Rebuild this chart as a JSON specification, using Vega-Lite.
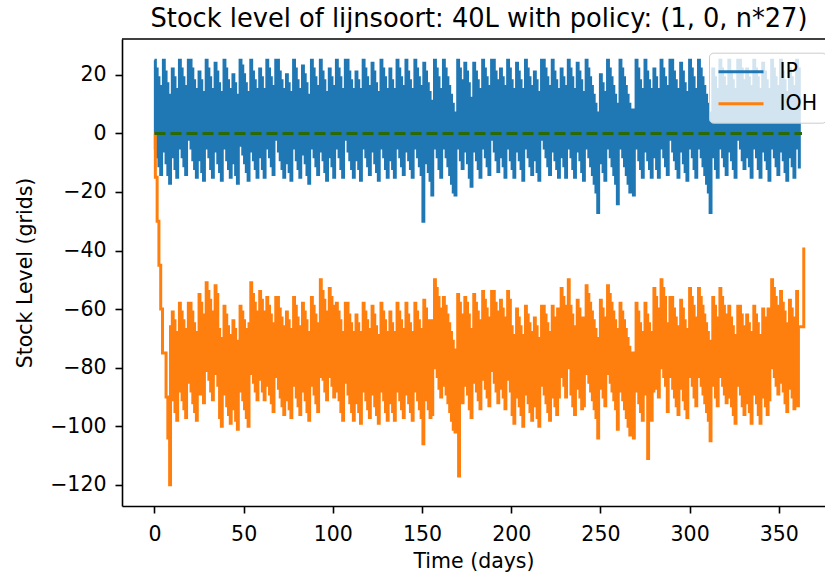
{
"$schema":"https://vega.github.io/schema/vega-lite/v6.json",
"width":703,"height":467,
"autosize":{"type":"none"},
"padding":{"left":122,"top":39,"right":0,"bottom":69},
"background":"white",
"config":{"view":{"stroke":null},"font":"DejaVu Sans",
"axis":{"domainColor":"black","domainWidth":1.6,"tickColor":"black","tickWidth":1.6,"tickSize":7,"labelFontSize":20.5,"labelColor":"black","labelPadding":11,"titleFontSize":20.5,"titleFontWeight":"normal","titleColor":"black","grid":false,"labelFont":"DejaVu Sans","titleFont":"DejaVu Sans","labelFlush":false,"labelOverlap":false}},
"title":{"text":"Stock level of lijnsoort: 40L with policy: (1, 0, n*27)","fontSize":25.7,"fontWeight":"normal","font":"DejaVu Sans","color":"black","anchor":"middle","dx":5.5,"dy":26,"offset":12,"baseline":"alphabetic","frame":"group"},
"datasets":{"d":[
{"t":0,"IP":25,"IOH":0},{"t":0.5,"IP":-5,"IOH":-15},
{"t":1,"IP":22,"IOH":-15},{"t":1.5,"IP":-8,"IOH":-30},
{"t":2,"IP":19,"IOH":-30},{"t":2.5,"IP":-11,"IOH":-45},
{"t":3,"IP":16,"IOH":-45},{"t":3.5,"IP":-14,"IOH":-60},
{"t":4,"IP":13,"IOH":-60},{"t":4.5,"IP":-2,"IOH":-75},
{"t":5,"IP":25,"IOH":-75},{"t":5.5,"IP":-6,"IOH":-75},
{"t":6,"IP":21,"IOH":-75},{"t":6.5,"IP":-10,"IOH":-90},
{"t":7,"IP":17,"IOH":-90},{"t":7.5,"IP":-14,"IOH":-104},
{"t":8,"IP":13,"IOH":-104},{"t":8.5,"IP":-17,"IOH":-120},
{"t":9,"IP":10,"IOH":-66},{"t":9.5,"IP":-5,"IOH":-81},
{"t":10,"IP":22,"IOH":-61},{"t":10.5,"IP":-8,"IOH":-91},
{"t":11,"IP":19,"IOH":-64},{"t":11.5,"IP":-12,"IOH":-95},
{"t":12,"IP":15,"IOH":-68},{"t":12.5,"IP":-15,"IOH":-98},
{"t":13,"IP":12,"IOH":-71},{"t":13.5,"IP":-2,"IOH":-85},
{"t":14,"IP":25,"IOH":-58},{"t":14.5,"IP":-5,"IOH":-88},
{"t":15,"IP":22,"IOH":-61},{"t":15.5,"IP":-8,"IOH":-91},
{"t":16,"IP":19,"IOH":-64},{"t":16.5,"IP":-11,"IOH":-94},
{"t":17,"IP":16,"IOH":-67},{"t":17.5,"IP":-14,"IOH":-97},
{"t":18,"IP":13,"IOH":-70},{"t":18.5,"IP":-2,"IOH":-85},
{"t":19,"IP":25,"IOH":-58},{"t":19.5,"IP":-2,"IOH":-85},
{"t":20,"IP":25,"IOH":-58},{"t":20.5,"IP":-5,"IOH":-88},
{"t":21,"IP":22,"IOH":-61},{"t":21.5,"IP":-9,"IOH":-92},
{"t":22,"IP":18,"IOH":-65},{"t":22.5,"IP":-12,"IOH":-95},
{"t":23,"IP":15,"IOH":-68},{"t":23.5,"IP":-15,"IOH":-98},
{"t":24,"IP":12,"IOH":-71},{"t":24.5,"IP":-6,"IOH":-89},
{"t":25,"IP":21,"IOH":-55},{"t":25.5,"IP":-9,"IOH":-85},
{"t":26,"IP":18,"IOH":-58},{"t":26.5,"IP":-13,"IOH":-89},
{"t":27,"IP":14,"IOH":-62},{"t":27.5,"IP":-16,"IOH":-92},
{"t":28,"IP":11,"IOH":-65},{"t":28.5,"IP":-2,"IOH":-78},
{"t":29,"IP":25,"IOH":-51},{"t":29.5,"IP":-5,"IOH":-81},
{"t":30,"IP":22,"IOH":-54},{"t":30.5,"IP":-8,"IOH":-84},
{"t":31,"IP":19,"IOH":-57},{"t":31.5,"IP":-12,"IOH":-88},
{"t":32,"IP":15,"IOH":-61},{"t":32.5,"IP":-15,"IOH":-91},
{"t":33,"IP":12,"IOH":-64},{"t":33.5,"IP":-3,"IOH":-79},
{"t":34,"IP":24,"IOH":-52},{"t":34.5,"IP":-6,"IOH":-82},
{"t":35,"IP":21,"IOH":-55},{"t":35.5,"IP":-10,"IOH":-86},
{"t":36,"IP":17,"IOH":-67},{"t":36.5,"IP":-13,"IOH":-97},
{"t":37,"IP":14,"IOH":-70},{"t":37.5,"IP":-16,"IOH":-100},
{"t":38,"IP":11,"IOH":-73},{"t":38.5,"IP":-2,"IOH":-86},
{"t":39,"IP":25,"IOH":-59},{"t":39.5,"IP":-5,"IOH":-89},
{"t":40,"IP":22,"IOH":-62},{"t":40.5,"IP":-9,"IOH":-93},
{"t":41,"IP":18,"IOH":-66},{"t":41.5,"IP":-12,"IOH":-96},
{"t":42,"IP":15,"IOH":-69},{"t":42.5,"IP":-15,"IOH":-99},
{"t":43,"IP":12,"IOH":-72},{"t":43.5,"IP":-7,"IOH":-91},
{"t":44,"IP":20,"IOH":-64},{"t":44.5,"IP":-10,"IOH":-94},
{"t":45,"IP":17,"IOH":-67},{"t":45.5,"IP":-14,"IOH":-98},
{"t":46,"IP":13,"IOH":-71},{"t":46.5,"IP":-17,"IOH":-101},
{"t":47,"IP":10,"IOH":-74},{"t":47.5,"IP":-2,"IOH":-86},
{"t":48,"IP":25,"IOH":-59},{"t":48.5,"IP":-4,"IOH":-88},
{"t":49,"IP":23,"IOH":-61},{"t":49.5,"IP":-7,"IOH":-91},
{"t":50,"IP":20,"IOH":-64},{"t":50.5,"IP":-10,"IOH":-94},
{"t":51,"IP":17,"IOH":-67},{"t":51.5,"IP":-13,"IOH":-97},
{"t":52,"IP":14,"IOH":-70},{"t":52.5,"IP":-16,"IOH":-100},
{"t":53,"IP":11,"IOH":-65},{"t":53.5,"IP":-2,"IOH":-78},
{"t":54,"IP":25,"IOH":-51},{"t":54.5,"IP":-6,"IOH":-82},
{"t":55,"IP":21,"IOH":-55},{"t":55.5,"IP":-9,"IOH":-85},
{"t":56,"IP":18,"IOH":-58},{"t":56.5,"IP":-12,"IOH":-88},
{"t":57,"IP":15,"IOH":-61},{"t":57.5,"IP":-15,"IOH":-91},
{"t":58,"IP":12,"IOH":-64},{"t":58.5,"IP":-5,"IOH":-81},
{"t":59,"IP":22,"IOH":-54},{"t":59.5,"IP":-8,"IOH":-84},
{"t":60,"IP":19,"IOH":-57},{"t":60.5,"IP":-12,"IOH":-88},
{"t":61,"IP":15,"IOH":-61},{"t":61.5,"IP":-15,"IOH":-91},
{"t":62,"IP":12,"IOH":-64},{"t":62.5,"IP":-2,"IOH":-78},
{"t":63,"IP":25,"IOH":-56},{"t":63.5,"IP":-5,"IOH":-86},
{"t":64,"IP":22,"IOH":-59},{"t":64.5,"IP":-8,"IOH":-89},
{"t":65,"IP":19,"IOH":-62},{"t":65.5,"IP":-11,"IOH":-92},
{"t":66,"IP":16,"IOH":-65},{"t":66.5,"IP":-14,"IOH":-95},
{"t":67,"IP":13,"IOH":-68},{"t":67.5,"IP":-2,"IOH":-83},
{"t":68,"IP":25,"IOH":-56},{"t":68.5,"IP":-2,"IOH":-83},
{"t":69,"IP":25,"IOH":-56},{"t":69.5,"IP":-6,"IOH":-87},
{"t":70,"IP":21,"IOH":-60},{"t":70.5,"IP":-9,"IOH":-90},
{"t":71,"IP":18,"IOH":-63},{"t":71.5,"IP":-12,"IOH":-93},
{"t":72,"IP":15,"IOH":-66},{"t":72.5,"IP":-15,"IOH":-96},
{"t":73,"IP":12,"IOH":-69},{"t":73.5,"IP":-7,"IOH":-88},
{"t":74,"IP":20,"IOH":-61},{"t":74.5,"IP":-10,"IOH":-91},
{"t":75,"IP":17,"IOH":-64},{"t":75.5,"IP":-13,"IOH":-94},
{"t":76,"IP":14,"IOH":-67},{"t":76.5,"IP":-16,"IOH":-97},
{"t":77,"IP":11,"IOH":-70},{"t":77.5,"IP":-2,"IOH":-83},
{"t":78,"IP":25,"IOH":-56},{"t":78.5,"IP":-5,"IOH":-86},
{"t":79,"IP":22,"IOH":-59},{"t":79.5,"IP":-9,"IOH":-90},
{"t":80,"IP":18,"IOH":-63},{"t":80.5,"IP":-12,"IOH":-93},
{"t":81,"IP":15,"IOH":-66},{"t":81.5,"IP":-15,"IOH":-96},
{"t":82,"IP":12,"IOH":-69},{"t":82.5,"IP":-4,"IOH":-85},
{"t":83,"IP":23,"IOH":-58},{"t":83.5,"IP":-7,"IOH":-88},
{"t":84,"IP":20,"IOH":-61},{"t":84.5,"IP":-10,"IOH":-91},
{"t":85,"IP":17,"IOH":-64},{"t":85.5,"IP":-14,"IOH":-95},
{"t":86,"IP":13,"IOH":-68},{"t":86.5,"IP":-17,"IOH":-98},
{"t":87,"IP":10,"IOH":-71},{"t":87.5,"IP":-2,"IOH":-83},
{"t":88,"IP":25,"IOH":-56},{"t":88.5,"IP":-5,"IOH":-86},
{"t":89,"IP":22,"IOH":-59},{"t":89.5,"IP":-8,"IOH":-89},
{"t":90,"IP":19,"IOH":-62},{"t":90.5,"IP":-11,"IOH":-92},
{"t":91,"IP":16,"IOH":-65},{"t":91.5,"IP":-14,"IOH":-95},
{"t":92,"IP":13,"IOH":-68},{"t":92.5,"IP":-2,"IOH":-83},
{"t":93,"IP":25,"IOH":-50},{"t":93.5,"IP":-6,"IOH":-81},
{"t":94,"IP":21,"IOH":-54},{"t":94.5,"IP":-9,"IOH":-84},
{"t":95,"IP":18,"IOH":-57},{"t":95.5,"IP":-13,"IOH":-88},
{"t":96,"IP":14,"IOH":-61},{"t":96.5,"IP":-16,"IOH":-91},
{"t":97,"IP":11,"IOH":-64},{"t":97.5,"IP":-5,"IOH":-80},
{"t":98,"IP":22,"IOH":-53},{"t":98.5,"IP":-8,"IOH":-83},
{"t":99,"IP":19,"IOH":-56},{"t":99.5,"IP":-11,"IOH":-86},
{"t":100,"IP":16,"IOH":-59},{"t":100.5,"IP":-15,"IOH":-90},
{"t":101,"IP":12,"IOH":-71},{"t":101.5,"IP":-2,"IOH":-85},
{"t":102,"IP":25,"IOH":-58},{"t":102.5,"IP":-5,"IOH":-88},
{"t":103,"IP":22,"IOH":-61},{"t":103.5,"IP":-8,"IOH":-91},
{"t":104,"IP":19,"IOH":-64},{"t":104.5,"IP":-12,"IOH":-95},
{"t":105,"IP":15,"IOH":-68},{"t":105.5,"IP":-15,"IOH":-98},
{"t":106,"IP":12,"IOH":-71},{"t":106.5,"IP":-2,"IOH":-85},
{"t":107,"IP":25,"IOH":-58},{"t":107.5,"IP":-2,"IOH":-85},
{"t":108,"IP":25,"IOH":-58},{"t":108.5,"IP":-6,"IOH":-89},
{"t":109,"IP":21,"IOH":-62},{"t":109.5,"IP":-9,"IOH":-92},
{"t":110,"IP":18,"IOH":-65},{"t":110.5,"IP":-12,"IOH":-95},
{"t":111,"IP":15,"IOH":-68},{"t":111.5,"IP":-15,"IOH":-98},
{"t":112,"IP":12,"IOH":-71},{"t":112.5,"IP":-6,"IOH":-89},
{"t":113,"IP":21,"IOH":-62},{"t":113.5,"IP":-9,"IOH":-92},
{"t":114,"IP":18,"IOH":-65},{"t":114.5,"IP":-12,"IOH":-95},
{"t":115,"IP":15,"IOH":-68},{"t":115.5,"IP":-16,"IOH":-99},
{"t":116,"IP":11,"IOH":-72},{"t":116.5,"IP":-2,"IOH":-85},
{"t":117,"IP":25,"IOH":-58},{"t":117.5,"IP":-5,"IOH":-88},
{"t":118,"IP":22,"IOH":-61},{"t":118.5,"IP":-8,"IOH":-91},
{"t":119,"IP":19,"IOH":-64},{"t":119.5,"IP":-11,"IOH":-94},
{"t":120,"IP":16,"IOH":-67},{"t":120.5,"IP":-14,"IOH":-97},
{"t":121,"IP":13,"IOH":-70},{"t":121.5,"IP":-3,"IOH":-86},
{"t":122,"IP":24,"IOH":-59},{"t":122.5,"IP":-6,"IOH":-89},
{"t":123,"IP":21,"IOH":-62},{"t":123.5,"IP":-10,"IOH":-93},
{"t":124,"IP":17,"IOH":-66},{"t":124.5,"IP":-13,"IOH":-96},
{"t":125,"IP":14,"IOH":-69},{"t":125.5,"IP":-16,"IOH":-99},
{"t":126,"IP":11,"IOH":-72},{"t":126.5,"IP":-2,"IOH":-85},
{"t":127,"IP":25,"IOH":-58},{"t":127.5,"IP":-5,"IOH":-88},
{"t":128,"IP":22,"IOH":-61},{"t":128.5,"IP":-8,"IOH":-91},
{"t":129,"IP":19,"IOH":-64},{"t":129.5,"IP":-12,"IOH":-95},
{"t":130,"IP":15,"IOH":-68},{"t":130.5,"IP":-15,"IOH":-98},
{"t":131,"IP":12,"IOH":-71},{"t":131.5,"IP":-5,"IOH":-88},
{"t":132,"IP":22,"IOH":-61},{"t":132.5,"IP":-9,"IOH":-92},
{"t":133,"IP":18,"IOH":-65},{"t":133.5,"IP":-12,"IOH":-95},
{"t":134,"IP":15,"IOH":-68},{"t":134.5,"IP":-15,"IOH":-98},
{"t":135,"IP":12,"IOH":-71},{"t":135.5,"IP":-2,"IOH":-85},
{"t":136,"IP":25,"IOH":-58},{"t":136.5,"IP":-5,"IOH":-88},
{"t":137,"IP":22,"IOH":-61},{"t":137.5,"IP":-8,"IOH":-91},
{"t":138,"IP":19,"IOH":-64},{"t":138.5,"IP":-11,"IOH":-94},
{"t":139,"IP":16,"IOH":-67},{"t":139.5,"IP":-14,"IOH":-97},
{"t":140,"IP":13,"IOH":-70},{"t":140.5,"IP":-2,"IOH":-85},
{"t":141,"IP":25,"IOH":-58},{"t":141.5,"IP":-6,"IOH":-89},
{"t":142,"IP":21,"IOH":-62},{"t":142.5,"IP":-9,"IOH":-92},
{"t":143,"IP":18,"IOH":-65},{"t":143.5,"IP":-12,"IOH":-95},
{"t":144,"IP":15,"IOH":-68},{"t":144.5,"IP":-15,"IOH":-98},
{"t":145,"IP":12,"IOH":-71},{"t":145.5,"IP":-2,"IOH":-85},
{"t":146,"IP":25,"IOH":-58},{"t":146.5,"IP":-5,"IOH":-88},
{"t":147,"IP":22,"IOH":-61},{"t":147.5,"IP":-8,"IOH":-91},
{"t":148,"IP":19,"IOH":-64},{"t":148.5,"IP":-11,"IOH":-94},
{"t":149,"IP":16,"IOH":-67},{"t":149.5,"IP":-14,"IOH":-97},
{"t":150,"IP":13,"IOH":-70},{"t":150.5,"IP":-30,"IOH":-106},
{"t":151,"IP":24,"IOH":-57},{"t":151.5,"IP":-6,"IOH":-87},
{"t":152,"IP":21,"IOH":-60},{"t":152.5,"IP":-10,"IOH":-91},
{"t":153,"IP":17,"IOH":-64},{"t":153.5,"IP":-13,"IOH":-94},
{"t":154,"IP":14,"IOH":-67},{"t":154.5,"IP":-16,"IOH":-97},
{"t":155,"IP":11,"IOH":-64},{"t":155.5,"IP":-21,"IOH":-96},
{"t":156,"IP":6,"IOH":-69},{"t":156.5,"IP":-2,"IOH":-77},
{"t":157,"IP":25,"IOH":-50},{"t":157.5,"IP":-5,"IOH":-80},
{"t":158,"IP":22,"IOH":-53},{"t":158.5,"IP":-8,"IOH":-83},
{"t":159,"IP":19,"IOH":-56},{"t":159.5,"IP":-12,"IOH":-87},
{"t":160,"IP":15,"IOH":-60},{"t":160.5,"IP":-15,"IOH":-90},
{"t":161,"IP":12,"IOH":-69},{"t":161.5,"IP":-2,"IOH":-83},
{"t":162,"IP":25,"IOH":-56},{"t":162.5,"IP":-5,"IOH":-86},
{"t":163,"IP":22,"IOH":-59},{"t":163.5,"IP":-8,"IOH":-89},
{"t":164,"IP":19,"IOH":-62},{"t":164.5,"IP":-11,"IOH":-92},
{"t":165,"IP":16,"IOH":-65},{"t":165.5,"IP":-14,"IOH":-95},
{"t":166,"IP":13,"IOH":-68},{"t":166.5,"IP":-17,"IOH":-98},
{"t":167,"IP":10,"IOH":-71},{"t":167.5,"IP":-20,"IOH":-101},
{"t":168,"IP":7,"IOH":-74},{"t":168.5,"IP":-21,"IOH":-102},
{"t":169,"IP":6,"IOH":-75},{"t":169.5,"IP":-2,"IOH":-83},
{"t":170,"IP":25,"IOH":-55},{"t":170.5,"IP":-5,"IOH":-117},
{"t":171,"IP":22,"IOH":-58},{"t":171.5,"IP":-9,"IOH":-89},
{"t":172,"IP":18,"IOH":-62},{"t":172.5,"IP":-12,"IOH":-92},
{"t":173,"IP":15,"IOH":-65},{"t":173.5,"IP":-3,"IOH":-83},
{"t":174,"IP":24,"IOH":-56},{"t":174.5,"IP":-6,"IOH":-86},
{"t":175,"IP":21,"IOH":-58},{"t":175.5,"IP":-10,"IOH":-89},
{"t":176,"IP":17,"IOH":-62},{"t":176.5,"IP":-15,"IOH":-94},
{"t":177,"IP":12,"IOH":-67},{"t":177.5,"IP":-18,"IOH":-97},
{"t":178,"IP":9,"IOH":-70},{"t":178.5,"IP":-3,"IOH":-82},
{"t":179,"IP":24,"IOH":-55},{"t":179.5,"IP":-6,"IOH":-85},
{"t":180,"IP":21,"IOH":-58},{"t":180.5,"IP":-9,"IOH":-88},
{"t":181,"IP":18,"IOH":-61},{"t":181.5,"IP":-12,"IOH":-91},
{"t":182,"IP":15,"IOH":-64},{"t":182.5,"IP":-15,"IOH":-94},
{"t":183,"IP":12,"IOH":-67},{"t":183.5,"IP":-2,"IOH":-81},
{"t":184,"IP":25,"IOH":-54},{"t":184.5,"IP":-5,"IOH":-84},
{"t":185,"IP":22,"IOH":-57},{"t":185.5,"IP":-8,"IOH":-87},
{"t":186,"IP":19,"IOH":-60},{"t":186.5,"IP":-11,"IOH":-90},
{"t":187,"IP":16,"IOH":-63},{"t":187.5,"IP":-14,"IOH":-93},
{"t":188,"IP":13,"IOH":-66},{"t":188.5,"IP":-2,"IOH":-81},
{"t":189,"IP":25,"IOH":-54},{"t":189.5,"IP":-2,"IOH":-81},
{"t":190,"IP":25,"IOH":-54},{"t":190.5,"IP":-6,"IOH":-85},
{"t":191,"IP":21,"IOH":-58},{"t":191.5,"IP":-9,"IOH":-88},
{"t":192,"IP":18,"IOH":-61},{"t":192.5,"IP":-13,"IOH":-92},
{"t":193,"IP":14,"IOH":-65},{"t":193.5,"IP":-5,"IOH":-84},
{"t":194,"IP":22,"IOH":-57},{"t":194.5,"IP":-8,"IOH":-87},
{"t":195,"IP":19,"IOH":-60},{"t":195.5,"IP":-11,"IOH":-90},
{"t":196,"IP":16,"IOH":-63},{"t":196.5,"IP":-15,"IOH":-94},
{"t":197,"IP":12,"IOH":-67},{"t":197.5,"IP":-2,"IOH":-81},
{"t":198,"IP":25,"IOH":-54},{"t":198.5,"IP":-5,"IOH":-84},
{"t":199,"IP":22,"IOH":-57},{"t":199.5,"IP":-9,"IOH":-88},
{"t":200,"IP":18,"IOH":-66},{"t":200.5,"IP":-12,"IOH":-96},
{"t":201,"IP":15,"IOH":-69},{"t":201.5,"IP":-15,"IOH":-99},
{"t":202,"IP":12,"IOH":-72},{"t":202.5,"IP":-3,"IOH":-87},
{"t":203,"IP":24,"IOH":-60},{"t":203.5,"IP":-6,"IOH":-90},
{"t":204,"IP":21,"IOH":-63},{"t":204.5,"IP":-9,"IOH":-93},
{"t":205,"IP":18,"IOH":-66},{"t":205.5,"IP":-12,"IOH":-96},
{"t":206,"IP":15,"IOH":-69},{"t":206.5,"IP":-16,"IOH":-100},
{"t":207,"IP":11,"IOH":-73},{"t":207.5,"IP":-2,"IOH":-86},
{"t":208,"IP":25,"IOH":-59},{"t":208.5,"IP":-5,"IOH":-89},
{"t":209,"IP":22,"IOH":-62},{"t":209.5,"IP":-8,"IOH":-92},
{"t":210,"IP":19,"IOH":-65},{"t":210.5,"IP":-11,"IOH":-95},
{"t":211,"IP":16,"IOH":-68},{"t":211.5,"IP":-14,"IOH":-98},
{"t":212,"IP":13,"IOH":-71},{"t":212.5,"IP":-6,"IOH":-90},
{"t":213,"IP":21,"IOH":-63},{"t":213.5,"IP":-9,"IOH":-93},
{"t":214,"IP":18,"IOH":-66},{"t":214.5,"IP":-13,"IOH":-97},
{"t":215,"IP":14,"IOH":-70},{"t":215.5,"IP":-16,"IOH":-100},
{"t":216,"IP":11,"IOH":-73},{"t":216.5,"IP":-2,"IOH":-86},
{"t":217,"IP":25,"IOH":-59},{"t":217.5,"IP":-2,"IOH":-86},
{"t":218,"IP":25,"IOH":-59},{"t":218.5,"IP":-5,"IOH":-89},
{"t":219,"IP":22,"IOH":-62},{"t":219.5,"IP":-8,"IOH":-92},
{"t":220,"IP":19,"IOH":-65},{"t":220.5,"IP":-11,"IOH":-95},
{"t":221,"IP":16,"IOH":-68},{"t":221.5,"IP":-14,"IOH":-98},
{"t":222,"IP":13,"IOH":-71},{"t":222.5,"IP":-2,"IOH":-86},
{"t":223,"IP":25,"IOH":-59},{"t":223.5,"IP":-6,"IOH":-90},
{"t":224,"IP":21,"IOH":-63},{"t":224.5,"IP":-9,"IOH":-93},
{"t":225,"IP":18,"IOH":-66},{"t":225.5,"IP":-12,"IOH":-96},
{"t":226,"IP":15,"IOH":-60},{"t":226.5,"IP":-15,"IOH":-90},
{"t":227,"IP":12,"IOH":-63},{"t":227.5,"IP":-5,"IOH":-80},
{"t":228,"IP":22,"IOH":-53},{"t":228.5,"IP":-8,"IOH":-83},
{"t":229,"IP":19,"IOH":-56},{"t":229.5,"IP":-11,"IOH":-86},
{"t":230,"IP":16,"IOH":-59},{"t":230.5,"IP":-15,"IOH":-90},
{"t":231,"IP":12,"IOH":-63},{"t":231.5,"IP":-2,"IOH":-77},
{"t":232,"IP":25,"IOH":-50},{"t":232.5,"IP":-5,"IOH":-80},
{"t":233,"IP":22,"IOH":-59},{"t":233.5,"IP":-8,"IOH":-89},
{"t":234,"IP":19,"IOH":-62},{"t":234.5,"IP":-12,"IOH":-93},
{"t":235,"IP":15,"IOH":-66},{"t":235.5,"IP":-15,"IOH":-96},
{"t":236,"IP":12,"IOH":-69},{"t":236.5,"IP":-3,"IOH":-84},
{"t":237,"IP":24,"IOH":-57},{"t":237.5,"IP":-6,"IOH":-87},
{"t":238,"IP":21,"IOH":-60},{"t":238.5,"IP":-9,"IOH":-90},
{"t":239,"IP":18,"IOH":-63},{"t":239.5,"IP":-13,"IOH":-94},
{"t":240,"IP":14,"IOH":-63},{"t":240.5,"IP":-16,"IOH":-93},
{"t":241,"IP":11,"IOH":-66},{"t":241.5,"IP":-2,"IOH":-79},
{"t":242,"IP":25,"IOH":-52},{"t":242.5,"IP":-5,"IOH":-82},
{"t":243,"IP":22,"IOH":-55},{"t":243.5,"IP":-8,"IOH":-85},
{"t":244,"IP":19,"IOH":-58},{"t":244.5,"IP":-11,"IOH":-88},
{"t":245,"IP":16,"IOH":-61},{"t":245.5,"IP":-14,"IOH":-91},
{"t":246,"IP":13,"IOH":-64},{"t":246.5,"IP":-17,"IOH":-94},
{"t":247,"IP":10,"IOH":-67},{"t":247.5,"IP":-20,"IOH":-97},
{"t":248,"IP":7,"IOH":-70},{"t":248.5,"IP":-27,"IOH":-104},
{"t":249,"IP":0,"IOH":-77},{"t":249.5,"IP":-7,"IOH":-84},
{"t":250,"IP":20,"IOH":-57},{"t":250.5,"IP":-10,"IOH":-87},
{"t":251,"IP":17,"IOH":-60},{"t":251.5,"IP":-13,"IOH":-90},
{"t":252,"IP":14,"IOH":-63},{"t":252.5,"IP":-16,"IOH":-93},
{"t":253,"IP":11,"IOH":-66},{"t":253.5,"IP":-2,"IOH":-79},
{"t":254,"IP":25,"IOH":-52},{"t":254.5,"IP":-5,"IOH":-82},
{"t":255,"IP":22,"IOH":-55},{"t":255.5,"IP":-8,"IOH":-85},
{"t":256,"IP":19,"IOH":-58},{"t":256.5,"IP":-11,"IOH":-88},
{"t":257,"IP":16,"IOH":-61},{"t":257.5,"IP":-14,"IOH":-91},
{"t":258,"IP":13,"IOH":-64},{"t":258.5,"IP":-17,"IOH":-94},
{"t":259,"IP":10,"IOH":-67},{"t":259.5,"IP":-24,"IOH":-101},
{"t":260,"IP":3,"IOH":-74},{"t":260.5,"IP":-2,"IOH":-79},
{"t":261,"IP":25,"IOH":-58},{"t":261.5,"IP":-5,"IOH":-88},
{"t":262,"IP":22,"IOH":-61},{"t":262.5,"IP":-8,"IOH":-91},
{"t":263,"IP":19,"IOH":-64},{"t":263.5,"IP":-11,"IOH":-94},
{"t":264,"IP":16,"IOH":-67},{"t":264.5,"IP":-14,"IOH":-97},
{"t":265,"IP":13,"IOH":-70},{"t":265.5,"IP":-17,"IOH":-100},
{"t":266,"IP":10,"IOH":-73},{"t":266.5,"IP":-20,"IOH":-103},
{"t":267,"IP":7,"IOH":-76},{"t":267.5,"IP":-19,"IOH":-102},
{"t":268,"IP":8,"IOH":-75},{"t":268.5,"IP":-21,"IOH":-104},
{"t":269,"IP":6,"IOH":-77},{"t":269.5,"IP":-2,"IOH":-85},
{"t":270,"IP":25,"IOH":-58},{"t":270.5,"IP":-5,"IOH":-88},
{"t":271,"IP":22,"IOH":-61},{"t":271.5,"IP":-9,"IOH":-92},
{"t":272,"IP":18,"IOH":-65},{"t":272.5,"IP":-12,"IOH":-95},
{"t":273,"IP":15,"IOH":-68},{"t":273.5,"IP":-15,"IOH":-98},
{"t":274,"IP":12,"IOH":-71},{"t":274.5,"IP":-2,"IOH":-85},
{"t":275,"IP":25,"IOH":-58},{"t":275.5,"IP":-6,"IOH":-89},
{"t":276,"IP":21,"IOH":-62},{"t":276.5,"IP":-9,"IOH":-111},
{"t":277,"IP":18,"IOH":-65},{"t":277.5,"IP":-12,"IOH":-95},
{"t":278,"IP":15,"IOH":-68},{"t":278.5,"IP":-15,"IOH":-98},
{"t":279,"IP":12,"IOH":-71},{"t":279.5,"IP":-5,"IOH":-88},
{"t":280,"IP":22,"IOH":-53},{"t":280.5,"IP":-8,"IOH":-83},
{"t":281,"IP":19,"IOH":-56},{"t":281.5,"IP":-12,"IOH":-87},
{"t":282,"IP":15,"IOH":-60},{"t":282.5,"IP":-15,"IOH":-90},
{"t":283,"IP":12,"IOH":-63},{"t":283.5,"IP":-2,"IOH":-77},
{"t":284,"IP":25,"IOH":-50},{"t":284.5,"IP":-5,"IOH":-80},
{"t":285,"IP":22,"IOH":-53},{"t":285.5,"IP":-8,"IOH":-83},
{"t":286,"IP":19,"IOH":-56},{"t":286.5,"IP":-11,"IOH":-86},
{"t":287,"IP":16,"IOH":-65},{"t":287.5,"IP":-14,"IOH":-95},
{"t":288,"IP":13,"IOH":-68},{"t":288.5,"IP":-2,"IOH":-83},
{"t":289,"IP":25,"IOH":-56},{"t":289.5,"IP":-2,"IOH":-83},
{"t":290,"IP":25,"IOH":-56},{"t":290.5,"IP":-6,"IOH":-87},
{"t":291,"IP":21,"IOH":-60},{"t":291.5,"IP":-9,"IOH":-90},
{"t":292,"IP":18,"IOH":-63},{"t":292.5,"IP":-12,"IOH":-93},
{"t":293,"IP":15,"IOH":-66},{"t":293.5,"IP":-15,"IOH":-96},
{"t":294,"IP":12,"IOH":-69},{"t":294.5,"IP":-3,"IOH":-84},
{"t":295,"IP":24,"IOH":-57},{"t":295.5,"IP":-6,"IOH":-87},
{"t":296,"IP":21,"IOH":-60},{"t":296.5,"IP":-10,"IOH":-91},
{"t":297,"IP":17,"IOH":-64},{"t":297.5,"IP":-13,"IOH":-94},
{"t":298,"IP":14,"IOH":-67},{"t":298.5,"IP":-16,"IOH":-97},
{"t":299,"IP":11,"IOH":-70},{"t":299.5,"IP":-2,"IOH":-83},
{"t":300,"IP":25,"IOH":-53},{"t":300.5,"IP":-5,"IOH":-83},
{"t":301,"IP":22,"IOH":-56},{"t":301.5,"IP":-8,"IOH":-86},
{"t":302,"IP":19,"IOH":-59},{"t":302.5,"IP":-12,"IOH":-90},
{"t":303,"IP":15,"IOH":-63},{"t":303.5,"IP":-15,"IOH":-93},
{"t":304,"IP":12,"IOH":-66},{"t":304.5,"IP":-2,"IOH":-80},
{"t":305,"IP":25,"IOH":-53},{"t":305.5,"IP":-5,"IOH":-83},
{"t":306,"IP":22,"IOH":-56},{"t":306.5,"IP":-8,"IOH":-86},
{"t":307,"IP":19,"IOH":-59},{"t":307.5,"IP":-11,"IOH":-89},
{"t":308,"IP":16,"IOH":-62},{"t":308.5,"IP":-14,"IOH":-92},
{"t":309,"IP":13,"IOH":-65},{"t":309.5,"IP":-17,"IOH":-95},
{"t":310,"IP":10,"IOH":-68},{"t":310.5,"IP":-20,"IOH":-98},
{"t":311,"IP":7,"IOH":-71},{"t":311.5,"IP":-27,"IOH":-105},
{"t":312,"IP":0,"IOH":-78},{"t":312.5,"IP":-5,"IOH":-83},
{"t":313,"IP":22,"IOH":-56},{"t":313.5,"IP":-8,"IOH":-86},
{"t":314,"IP":19,"IOH":-59},{"t":314.5,"IP":-12,"IOH":-90},
{"t":315,"IP":15,"IOH":-63},{"t":315.5,"IP":-15,"IOH":-93},
{"t":316,"IP":12,"IOH":-66},{"t":316.5,"IP":-2,"IOH":-80},
{"t":317,"IP":25,"IOH":-53},{"t":317.5,"IP":-5,"IOH":-83},
{"t":318,"IP":22,"IOH":-56},{"t":318.5,"IP":-8,"IOH":-86},
{"t":319,"IP":19,"IOH":-59},{"t":319.5,"IP":-11,"IOH":-89},
{"t":320,"IP":16,"IOH":-62},{"t":320.5,"IP":-14,"IOH":-92},
{"t":321,"IP":13,"IOH":-71},{"t":321.5,"IP":-2,"IOH":-86},
{"t":322,"IP":25,"IOH":-59},{"t":322.5,"IP":-6,"IOH":-90},
{"t":323,"IP":21,"IOH":-63},{"t":323.5,"IP":-9,"IOH":-93},
{"t":324,"IP":18,"IOH":-66},{"t":324.5,"IP":-12,"IOH":-96},
{"t":325,"IP":15,"IOH":-69},{"t":325.5,"IP":-15,"IOH":-99},
{"t":326,"IP":12,"IOH":-72},{"t":326.5,"IP":-2,"IOH":-86},
{"t":327,"IP":25,"IOH":-59},{"t":327.5,"IP":-2,"IOH":-86},
{"t":328,"IP":25,"IOH":-59},{"t":328.5,"IP":-5,"IOH":-89},
{"t":329,"IP":22,"IOH":-62},{"t":329.5,"IP":-9,"IOH":-93},
{"t":330,"IP":18,"IOH":-66},{"t":330.5,"IP":-12,"IOH":-96},
{"t":331,"IP":15,"IOH":-69},{"t":331.5,"IP":-5,"IOH":-89},
{"t":332,"IP":22,"IOH":-62},{"t":332.5,"IP":-8,"IOH":-92},
{"t":333,"IP":19,"IOH":-65},{"t":333.5,"IP":-11,"IOH":-95},
{"t":334,"IP":16,"IOH":-68},{"t":334.5,"IP":-15,"IOH":-99},
{"t":335,"IP":12,"IOH":-72},{"t":335.5,"IP":-2,"IOH":-86},
{"t":336,"IP":25,"IOH":-59},{"t":336.5,"IP":-5,"IOH":-89},
{"t":337,"IP":22,"IOH":-62},{"t":337.5,"IP":-8,"IOH":-92},
{"t":338,"IP":19,"IOH":-65},{"t":338.5,"IP":-12,"IOH":-96},
{"t":339,"IP":15,"IOH":-69},{"t":339.5,"IP":-15,"IOH":-99},
{"t":340,"IP":12,"IOH":-72},{"t":340.5,"IP":-3,"IOH":-87},
{"t":341,"IP":24,"IOH":-60},{"t":341.5,"IP":-6,"IOH":-90},
{"t":342,"IP":21,"IOH":-63},{"t":342.5,"IP":-9,"IOH":-93},
{"t":343,"IP":18,"IOH":-66},{"t":343.5,"IP":-12,"IOH":-96},
{"t":344,"IP":15,"IOH":-60},{"t":344.5,"IP":-16,"IOH":-91},
{"t":345,"IP":11,"IOH":-64},{"t":345.5,"IP":-2,"IOH":-77},
{"t":346,"IP":25,"IOH":-50},{"t":346.5,"IP":-5,"IOH":-80},
{"t":347,"IP":22,"IOH":-53},{"t":347.5,"IP":-8,"IOH":-83},
{"t":348,"IP":19,"IOH":-56},{"t":348.5,"IP":-11,"IOH":-86},
{"t":349,"IP":16,"IOH":-59},{"t":349.5,"IP":-14,"IOH":-89},
{"t":350,"IP":13,"IOH":-62},{"t":350.5,"IP":-2,"IOH":-77},
{"t":351,"IP":25,"IOH":-54},{"t":351.5,"IP":-6,"IOH":-85},
{"t":352,"IP":21,"IOH":-58},{"t":352.5,"IP":-9,"IOH":-88},
{"t":353,"IP":18,"IOH":-61},{"t":353.5,"IP":-13,"IOH":-92},
{"t":354,"IP":14,"IOH":-65},{"t":354.5,"IP":-16,"IOH":-95},
{"t":355,"IP":11,"IOH":-68},{"t":355.5,"IP":-5,"IOH":-84},
{"t":356,"IP":22,"IOH":-57},{"t":356.5,"IP":-8,"IOH":-87},
{"t":357,"IP":19,"IOH":-60},{"t":357.5,"IP":-11,"IOH":-90},
{"t":358,"IP":16,"IOH":-63},{"t":358.5,"IP":-15,"IOH":-94},
{"t":359,"IP":12,"IOH":-67},{"t":359.5,"IP":-2,"IOH":-81},
{"t":360,"IP":25,"IOH":-54},{"t":360.5,"IP":-5,"IOH":-93},
{"t":361,"IP":22,"IOH":-66},{"t":361.5,"IP":-12,"IOH":-66},
{"t":364,"IP":null,"IOH":-39}
]},
"layer":[
{"data":{"name":"d"},
 "transform":[{"fold":["IP","IOH"],"as":["series","level"]},{"filter":"datum.level != null"}],
 "mark":{"type":"line","interpolate":"step-after","strokeWidth":3},
 "encoding":{
  "x":{"field":"t","type":"quantitative","scale":{"domain":[-18.2,375.9],"nice":false,"zero":false},
       "axis":{"values":[0,50,100,150,200,250,300,350],"title":"Time (days)","titlePadding":7}},
  "y":{"field":"level","type":"quantitative","scale":{"domain":[-127.25,32.25],"nice":false,"zero":false},
       "axis":{"values":[-120,-100,-80,-60,-40,-20,0,20],"title":"Stock Level (grids)","titlePadding":14,"labelPadding":9}},
  "color":{"field":"series","type":"nominal","scale":{"domain":["IP","IOH"],"range":["#1f77b4","#ff7f0e"]},
    "legend":{"orient":"none","legendX":587,"legendY":13.7,"title":null,"symbolType":"stroke","symbolSize":2025,"symbolStrokeWidth":3,"labelFontSize":20.5,"labelFont":"DejaVu Sans","labelColor":"black","labelOffset":14.5,"padding":8,"clipHeight":22,"rowPadding":10,"fillColor":"rgba(255,255,255,0.8)","strokeColor":"#cccccc","cornerRadius":4}}
 }},
{"data":{"values":[{"from":0,"to":363,"level":0}]},
 "mark":{"type":"rule","color":"#2a6a06","strokeWidth":3,"strokeDash":[11,5]},
 "encoding":{"x":{"field":"from","type":"quantitative"},"x2":{"field":"to"},"y":{"field":"level","type":"quantitative"}}},
{"data":{"values":[{}]},
 "mark":{"type":"rule","color":"black","strokeWidth":1.6},
 "encoding":{"y":{"datum":32.25}}}
]
}
